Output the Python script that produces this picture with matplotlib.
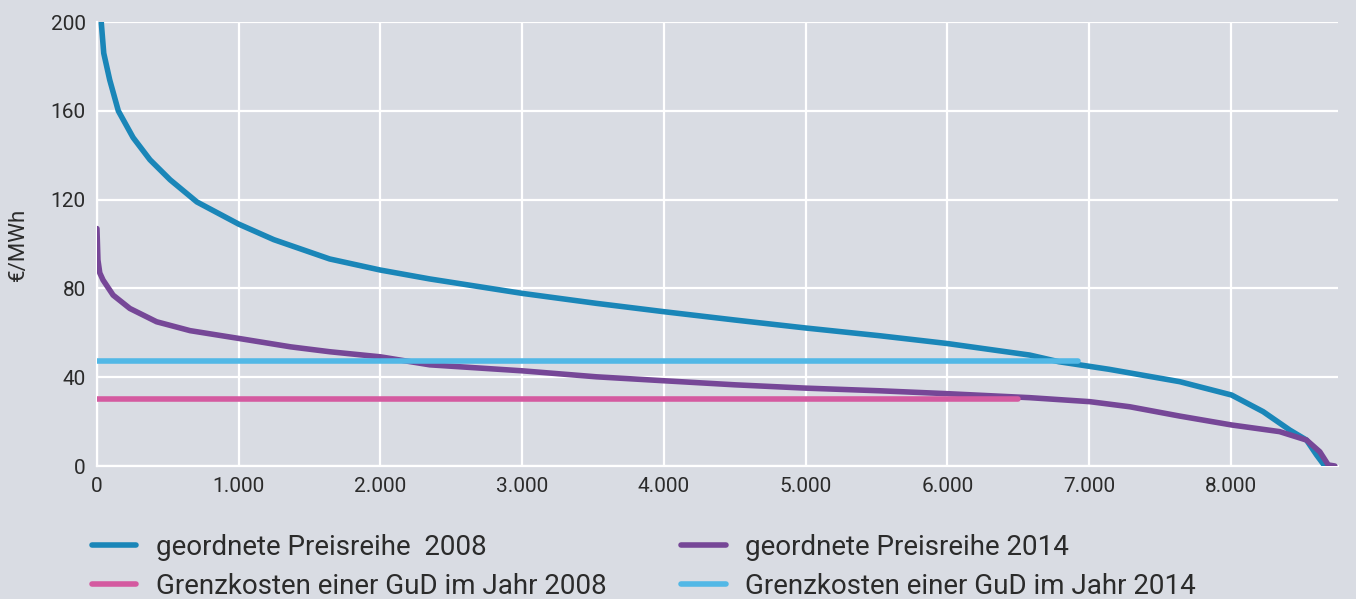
import matplotlib
matplotlib.use("Agg")
import matplotlib.pyplot as plt
from matplotlib.ticker import FuncFormatter

# ordered price series (hour of year, €/MWh)
hours_2008 = [0, 31, 48, 90, 151, 255, 374, 516, 705, 1000, 1248, 1642, 2000,
              2348, 3000, 3524, 4006, 4500, 5000, 5524, 6000, 6582, 6787, 7140,
              7641, 8006, 8229, 8417, 8535, 8606, 8664]
price_2008 = [235, 199.4, 186, 174, 160, 148, 138, 129, 119, 109, 102, 93.3, 88.3,
              84.3, 77.8, 73.3, 69.5, 65.8, 62.2, 58.7, 55.2, 50, 47, 43.6,
              38, 32, 24.5, 16.2, 11.7, 5, 0]

hours_2014 = [0, 7, 20, 43, 114, 232, 421, 657, 1000, 1367, 1642, 2000, 2348,
              3000, 3524, 4006, 4500, 5000, 5524, 6000, 6582, 7006, 7288, 7641,
              8006, 8345, 8535, 8629, 8688, 8735]
price_2014 = [107, 92.8, 87, 83.8, 77, 71, 65, 61, 57.5, 53.7, 51.5, 49.2, 45.6,
              42.9, 40.2, 38.4, 36.6, 35.1, 33.9, 32.6, 30.8, 29, 26.7, 22.5,
              18.5, 15.5, 11.7, 6.4, 0.5, 0]

# marginal cost of a CCGT plant (constant lines)
gud_2008_hours = [0, 6497]
gud_2008_cost = [30.4, 30.4]
gud_2014_hours = [0, 6920]
gud_2014_cost = [47.3, 47.3]

labels_left = ["geordnete Preisreihe  2008", "Grenzkosten einer GuD im Jahr 2008"]
labels_right = ["geordnete Preisreihe 2014", "Grenzkosten einer GuD im Jahr 2014"]

BG = "#d9dce3"
C_2008 = "#1a86b8"
C_2014 = "#764797"
C_GUD08 = "#d45aa0"
C_GUD14 = "#52b8e6"
TXT = "#2b2b2b"

plt.rcParams["font.family"] = ["Roboto", "DejaVu Sans"]

fig = plt.figure(figsize=(13.56, 5.99), dpi=100)
fig.patch.set_facecolor(BG)
ax = fig.add_axes([0.0715, 0.222, 0.915, 0.741])
ax.set_facecolor(BG)

lw = 4.0
l1, = ax.plot(hours_2008, price_2008, color=C_2008, lw=lw, solid_capstyle="round", zorder=3)
l3, = ax.plot(hours_2014, price_2014, color=C_2014, lw=lw, solid_capstyle="round", zorder=4)
l2, = ax.plot(gud_2008_hours, gud_2008_cost, color=C_GUD08, lw=lw,
              solid_capstyle="round", zorder=5)
l4, = ax.plot(gud_2014_hours, gud_2014_cost, color=C_GUD14, lw=lw,
              solid_capstyle="round", zorder=5)

ax.set_xlim(0, 8755)
ax.set_ylim(0, 200)
ax.set_yticks(range(0, 201, 40))
ax.set_xticks(range(0, 8001, 1000))
ax.xaxis.set_major_formatter(FuncFormatter(lambda v, p: f"{int(v):,}".replace(",", ".")))
ax.grid(True, color="white", lw=1.6, zorder=1)
ax.set_axisbelow(True)
for s in ["top", "right"]:
    ax.spines[s].set_visible(False)
for s in ["left", "bottom"]:
    ax.spines[s].set_color("white")
    ax.spines[s].set_linewidth(1.6)
ax.tick_params(length=0, labelsize=15, colors=TXT, pad=8)
ax.set_ylabel("€/MWh", fontsize=16, color=TXT, labelpad=16)

leg_kw = dict(loc="center left", frameon=False, fontsize=20, labelcolor=TXT,
              handlelength=1.6, handletextpad=0.7, labelspacing=0.42,
              borderpad=0, borderaxespad=0)
fig.legend([l1, l2], labels_left, bbox_to_anchor=(0.0678, 0.0534), **leg_kw)
fig.legend([l3, l4], labels_right, bbox_to_anchor=(0.5025, 0.0534), **leg_kw)

fig.savefig("out.png", facecolor=fig.get_facecolor())
